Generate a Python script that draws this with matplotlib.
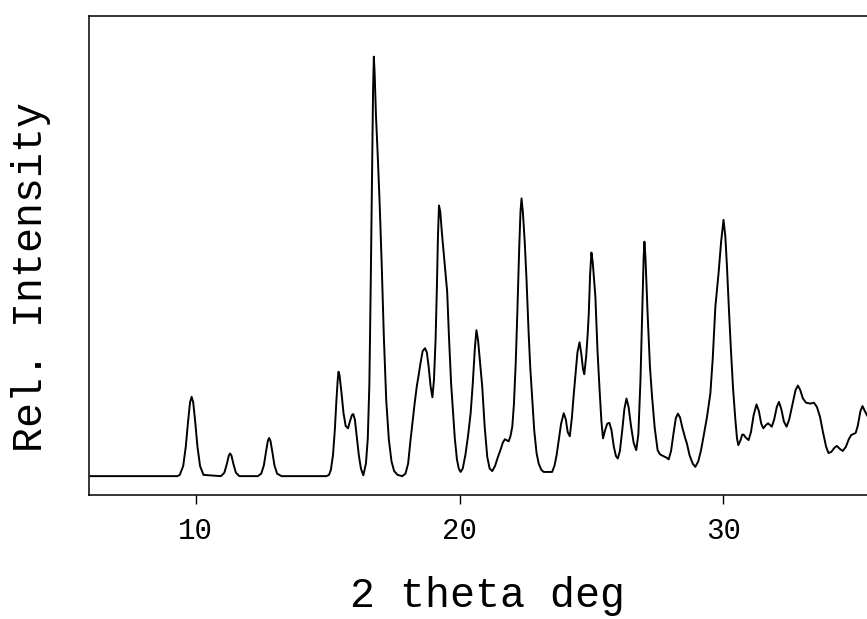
import matplotlib
matplotlib.use('Agg')
import matplotlib.pyplot as plt

# 2 theta (deg) and relative intensity
two_theta = [6.00, 9.30, 9.39, 9.52, 9.62, 9.70, 9.78, 9.84, 9.90, 9.98, 10.06, 10.16, 10.29,
             10.95, 11.08, 11.18, 11.25, 11.30, 11.35, 11.42, 11.52, 11.65,
             12.35, 12.48, 12.58, 12.66, 12.73, 12.78, 12.83, 12.90, 12.98, 13.08, 13.25,
             14.95, 15.05, 15.12, 15.20, 15.27, 15.33, 15.38, 15.41, 15.45, 15.52, 15.60, 15.68,
             15.77, 15.85, 15.92, 15.97, 16.03, 16.10, 16.18, 16.26, 16.35,
             16.45, 16.52, 16.58, 16.63, 16.68, 16.72, 16.75, 16.78, 16.83, 16.90, 16.97, 17.05,
             17.13, 17.22, 17.32, 17.42, 17.52, 17.65, 17.83, 17.95, 18.05, 18.14, 18.22, 18.30,
             18.38, 18.44, 18.52, 18.60, 18.69, 18.76, 18.83, 18.90, 18.97, 19.03, 19.09, 19.14,
             19.18, 19.22, 19.27, 19.33, 19.40, 19.47, 19.53, 19.60, 19.68, 19.75, 19.82, 19.90,
             19.97, 20.04, 20.12, 20.22, 20.32, 20.42, 20.50, 20.58, 20.64, 20.70, 20.78, 20.86,
             20.95, 21.05, 21.14, 21.24, 21.35, 21.45, 21.55, 21.64, 21.72, 21.80, 21.86, 21.93,
             22.00, 22.06, 22.13, 22.19, 22.26, 22.31, 22.35, 22.40, 22.47, 22.54, 22.62, 22.68,
             22.75, 22.83, 22.92, 23.00, 23.10, 23.19, 23.51, 23.60, 23.68, 23.76, 23.85, 23.95,
             24.03, 24.10, 24.18, 24.26, 24.33, 24.39, 24.47, 24.55, 24.62, 24.68, 24.73, 24.80,
             24.86, 24.90, 24.95, 25.00, 25.05, 25.10, 25.15, 25.23, 25.31, 25.38, 25.44, 25.52,
             25.60, 25.68, 25.76, 25.85, 25.93, 26.00, 26.08, 26.17, 26.25, 26.33, 26.41, 26.50,
             26.60, 26.70, 26.78, 26.86, 26.93, 26.98, 27.01, 27.05, 27.13, 27.22, 27.30, 27.40,
             27.51, 27.60, 27.72, 27.85, 27.93, 28.02, 28.12, 28.20, 28.28, 28.36, 28.45, 28.55,
             28.62, 28.72, 28.84, 28.94, 29.05, 29.15, 29.25, 29.38, 29.51, 29.60, 29.70, 29.82,
             29.92, 30.01, 30.08, 30.14, 30.22, 30.29, 30.37, 30.45, 30.52, 30.57, 30.65, 30.72,
             30.77, 30.85, 30.96, 31.05, 31.15, 31.26, 31.35, 31.44, 31.52, 31.62, 31.70, 31.77,
             31.84, 31.93, 32.03, 32.11, 32.20, 32.30, 32.40, 32.50, 32.62, 32.74, 32.83, 32.92,
             33.02, 33.14, 33.30, 33.44, 33.55, 33.67, 33.78, 33.90, 33.99, 34.10, 34.22, 34.31,
             34.42, 34.53, 34.65, 34.76, 34.85, 34.95, 35.02, 35.10, 35.20, 35.28, 35.37, 35.45]

intensity = [0.0, 0.0, 0.3, 2.4, 7.1, 12.7, 17.6, 18.9, 17.6, 12.7, 7.1, 2.4, 0.3,
             0.0, 0.8, 3.0, 4.9, 5.4, 4.9, 3.0, 0.8, 0.0,
             0.0, 0.6, 2.6, 5.8, 8.4, 9.1, 8.4, 5.8, 2.6, 0.6, 0.0,
             0.0, 0.3, 1.5, 5.0, 11.0, 18.0, 23.0, 24.9, 24.0, 20.0, 15.0, 12.0,
             11.4, 13.2, 14.6, 14.8, 13.5, 9.5, 5.0, 1.8, 0.2,
             3.0, 9.0, 22.0, 45.0, 72.0, 92.0, 100.0, 96.0, 86.0, 76.0, 65.0, 50.0,
             33.0, 18.0, 8.6, 3.5, 1.2, 0.3, 0.0, 0.6, 3.0, 8.6, 13.0, 17.5,
             21.5, 23.7, 27.0, 29.8, 30.5, 29.5, 26.0, 21.5, 18.8, 23.0, 32.4, 45.0,
             57.0, 64.5, 63.0, 58.0, 53.0, 48.3, 44.0, 33.0, 22.0, 15.5, 9.0, 4.0,
             1.8, 1.0, 1.8, 5.0, 9.5, 15.0, 22.0, 30.5, 34.8, 32.5, 27.0, 21.3,
             12.0, 4.6, 1.8, 1.2, 2.5, 4.5, 6.2, 8.0, 8.8, 8.5, 8.3, 9.5,
             11.8, 17.0, 27.0, 38.8, 54.0, 63.0, 66.2, 63.0, 56.0, 46.7, 34.0, 26.0,
             18.9, 11.0, 5.5, 3.0, 1.5, 1.0, 1.0, 2.5, 5.0, 8.6, 12.5, 15.0,
             13.5, 10.5, 9.5, 14.0, 19.5, 23.7, 29.5, 31.9, 29.0, 25.5, 24.3, 28.5,
             34.0, 38.8, 48.0, 53.3, 51.0, 47.0, 42.8, 30.0, 20.5, 13.0, 9.0, 11.0,
             12.5, 12.7, 11.0, 7.0, 4.8, 4.2, 6.0, 11.0, 16.0, 18.5, 16.5, 12.0,
             8.0, 6.2, 10.0, 22.9, 40.0, 52.0, 55.9, 52.0, 38.8, 26.0, 18.9, 11.5,
             6.2, 5.2, 4.8, 4.4, 4.0, 6.0, 10.5, 13.8, 14.9, 14.0, 11.5, 9.2,
             7.8, 5.0, 3.0, 2.2, 3.5, 6.0, 9.4, 14.0, 19.7, 28.0, 40.4, 48.3,
             56.0, 61.1, 57.0, 49.9, 39.0, 30.1, 21.0, 14.1, 9.0, 7.4, 8.5, 9.9,
             9.9, 9.2, 8.6, 10.5, 14.5, 17.1, 15.5, 12.5, 11.4, 12.2, 12.6, 12.2,
             11.8, 13.5, 16.5, 17.7, 16.0, 13.0, 11.8, 13.5, 17.0, 20.5, 21.6, 20.5,
             18.5, 17.5, 17.3, 17.5, 16.5, 14.1, 10.5, 7.0, 5.5, 5.8, 6.8, 7.2,
             6.5, 6.0, 7.0, 8.8, 9.8, 10.1, 10.3, 12.0, 15.5, 16.7, 15.5, 14.5]

tick_pos = [10, 20, 30]
tick_labels = ['10', '20', '30']

mono = 'Liberation Mono'

fig = plt.figure(figsize=(8.67, 6.19), dpi=100)
ax = fig.add_axes([0.1027, 0.2003, 0.8973, 0.7739])

ax.plot(two_theta, intensity, color='black', lw=1.4)

ax.set_xlim(5.95, 35.45)
ax.set_ylim(-4.5, 109.7)

ax.spines['right'].set_visible(False)
for s in ['left', 'bottom', 'top']:
    ax.spines[s].set_linewidth(1.1)

ax.set_yticks([])
ax.set_xticks(tick_pos)
ax.set_xticklabels(tick_labels, fontfamily=mono, fontsize=21)
ax.tick_params(axis='x', direction='out', length=6.5, width=1.0, pad=9)

fig.text(487 / 867, 1 - 607 / 619, '2 theta deg', fontfamily=mono, fontsize=30,
         ha='center', va='baseline')
fig.text(42 / 867, 1 - 277 / 619, 'Rel. Intensity', fontfamily=mono, fontsize=30,
         ha='center', va='baseline', rotation=90, rotation_mode='anchor')

fig.savefig('out.png', dpi=100)
